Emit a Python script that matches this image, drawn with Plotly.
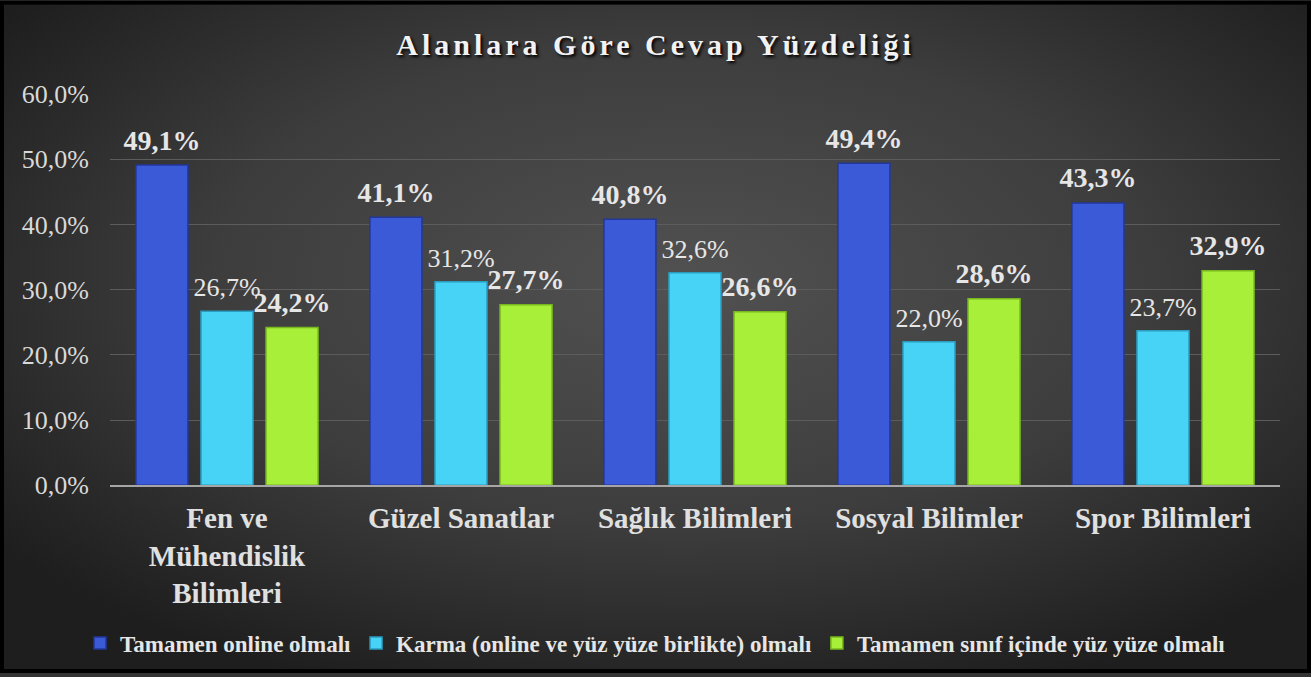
import base64

import plotly.graph_objects as go

categories = [
    "Fen ve<br>Mühendislik<br>Bilimleri",
    "Güzel Sanatlar",
    "Sağlık Bilimleri",
    "Sosyal Bilimler",
    "Spor Bilimleri",
]
series_names = [
    "Tamamen online olmalı",
    "Karma (online ve yüz yüze birlikte) olmalı",
    "Tamamen sınıf içinde yüz yüze olmalı",
]
online = [49.1, 41.1, 40.8, 49.4, 43.3]
karma = [26.7, 31.2, 32.6, 22.0, 23.7]
yuz_yuze = [24.2, 27.7, 26.6, 28.6, 32.9]

FONT = "Liberation Serif, DejaVu Serif, serif"
W, H = 1311, 677
M_L, M_R, M_T, M_B = 110, 31, 94, 189
GAP = 0.166

# arka plan: koyu radyal gradyan + siyah çerçeve
svg = (
    f'<svg xmlns="http://www.w3.org/2000/svg" width="{W}" height="{H}">'
    '<defs><radialGradient id="g" cx="52%" cy="42%" r="65%">'
    '<stop offset="0" stop-color="#515151"/>'
    '<stop offset="0.55" stop-color="#3d3d3d"/>'
    '<stop offset="1" stop-color="#1e1e1e"/>'
    "</radialGradient></defs>"
    '<rect width="100%" height="100%" fill="url(#g)" stroke="#000" stroke-width="8"/>'
    "</svg>"
)
bg_src = "data:image/svg+xml;base64," + base64.b64encode(svg.encode()).decode()

fig = go.Figure()

styles = [
    (online, "#3b5ad8", "#22379a", dict(size=28, weight="bold")),
    (karma, "#47d3f6", "#2a9cc0", dict(size=26, weight="normal")),
    (yuz_yuze, "#a7ef38", "#78b81e", dict(size=28, weight="bold")),
]
for i, (name, (vals, color, edge, tfont)) in enumerate(zip(series_names, styles)):
    fig.add_trace(
        go.Bar(
            x=categories,
            y=vals,
            name=name,
            offsetgroup=str(i),
            marker=dict(color=color, line=dict(color=edge, width=1.5)),
            hovertemplate="%{y:.1f}%<extra>" + name + "</extra>",
        )
    )

# veri etiketleri: çubukların üstünde biraz boşlukla
for i, (name, (vals, color, edge, tfont)) in enumerate(zip(series_names, styles)):
    fig.add_trace(
        go.Scatter(
            x=categories,
            y=vals,
            offsetgroup=str(i),
            mode="markers+text",
            marker=dict(size=12, color="rgba(0,0,0,0)"),
            text=[f"{v:.1f}%".replace(".", ",") for v in vals],
            textposition="top center",
            textfont=dict(family=FONT, color="#e6e6e6", **tfont),
            showlegend=False,
            hoverinfo="skip",
            cliponaxis=False,
        )
    )

fig.update_layout(
    width=W,
    height=H,
    margin=dict(l=M_L, r=M_R, t=M_T, b=M_B),
    separators=",.",
    barmode="group",
    bargap=GAP,
    bargroupgap=0.2,
    scattermode="group",
    scattergap=GAP,
    paper_bgcolor="#333333",
    plot_bgcolor="rgba(0,0,0,0)",
    title=dict(
        text="<b>Alanlara Göre Cevap Yüzdeliği</b>",
        x=0.5,
        xref="container",
        xanchor="center",
        y=1 - 44 / H,
        yanchor="middle",
        font=dict(family=FONT, size=30, color="#f2f2f2", shadow="2px 2px 3px #000"),
    ),
    font=dict(family=FONT, color="#d9d9d9"),
    legend=dict(
        orientation="h",
        xref="container",
        yref="container",
        x=0.5,
        xanchor="center",
        y=1 - 643 / H,
        yanchor="middle",
        font=dict(family=FONT, size=23, color="#e6e6e6", weight="bold"),
        bgcolor="rgba(0,0,0,0)",
    ),
    images=[
        dict(
            source=bg_src,
            xref="paper",
            yref="paper",
            x=-M_L / (W - M_L - M_R),
            y=1 + M_T / (H - M_T - M_B),
            sizex=W / (W - M_L - M_R),
            sizey=H / (H - M_T - M_B),
            sizing="stretch",
            xanchor="left",
            yanchor="top",
            layer="below",
        )
    ],
)

fig.update_xaxes(
    range=[-0.5, 4.5],
    showgrid=False,
    showline=True,
    linecolor="#a6a6a6",
    linewidth=2,
    tickfont=dict(family=FONT, size=29, color="#e0e0e0", weight="bold"),
    ticklabelstandoff=6,
)
fig.update_yaxes(
    range=[0, 60],
    dtick=10,
    tickformat=".1f",
    ticksuffix="%",
    showgrid=True,
    gridcolor="#5c5c5c",
    gridwidth=1,
    zeroline=False,
    tickfont=dict(family=FONT, size=26, color="#d9d9d9"),
    ticklabelstandoff=20,
)

post = """
document.body.style.margin = '0';
var gd = document.getElementsByClassName('plotly-graph-div')[0];
function spaceTitle() {
  document.querySelectorAll('.gtitle').forEach(function (t) {
    t.style.letterSpacing = '4px';
  });
}
spaceTitle();
gd.on('plotly_afterplot', spaceTitle);
"""

fig.write_html("out.html", post_script=post, config={"displayModeBar": False})
